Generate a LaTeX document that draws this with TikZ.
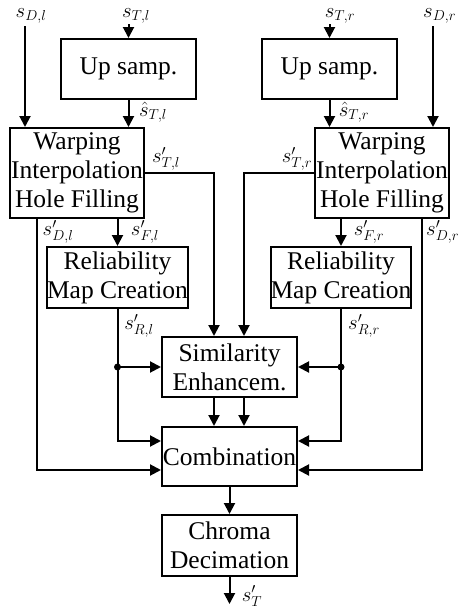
\documentclass[tikz,border=0pt]{standalone}
\usepackage{fontspec}
\setmainfont{Liberation Serif}
\usetikzlibrary{arrows.meta,calc}
\begin{document}
\begin{tikzpicture}[x=1pt,y=-1pt,
  blk/.style={draw,line width=2pt,inner sep=0pt,align=center,minimum width=135pt,font=\fontsize{25.5}{29}\selectfont},
  arr/.style={line width=2pt,-{Triangle[length=11pt,width=11pt]}},
  lab/.style={inner sep=0pt,font=\fontsize{22}{24}\selectfont},
  dotst/.style={circle,fill,inner sep=0pt,minimum size=7pt}]
\clip (0,0) rectangle (459,613);
\fill[white] (0,0) rectangle (459,613);
% blocks
\node[blk,minimum height=60pt] (upL) at (128.5,69) {Up samp.};
\node[blk,minimum height=60pt] (upR) at (329.5,69) {Up samp.};
\node[blk,minimum width=134pt,minimum height=90pt] (warpL) at (77,173) {Warping\\Interpolation\\Hole Filling};
\node[blk,minimum width=134pt,minimum height=90pt] (warpR) at (382,173) {Warping\\Interpolation\\Hole Filling};
\node[blk,minimum width=134pt,minimum height=61pt] (relL) at (117.5,277.5) {Reliability\\Map Creation};
\node[blk,minimum width=134pt,minimum height=61pt] (relR) at (341,277.5) {Reliability\\Map Creation};
\node[blk,minimum height=60pt] (sim) at (229.5,367) {Similarity\\Enhancem.};
\node[blk,minimum height=59pt] (comb) at (229.5,456.5) {Combination};
\node[blk,minimum height=61pt] (chroma) at (229.5,545.5) {Chroma\\Decimation};
% coordinates
\coordinate (sDl) at (25,26);
\coordinate (sTl) at (128.5,24);
\coordinate (sTr) at (329.5,24);
\coordinate (sDr) at (433,26);
\coordinate (cTl) at (214,173);
\coordinate (cTr) at (244,173);
\coordinate (cDl) at (37,470);
\coordinate (cDr) at (422,470);
\coordinate (xFl) at (117.5,0);
\coordinate (xFr) at (341,0);
\coordinate (cRl) at (117.5,441);
\coordinate (cRr) at (341,441);
\coordinate (dL) at (117.5,367);
\coordinate (dR) at (341,367);
\coordinate (out) at (229.5,604);
% left inputs
\draw[arr] (sDl) -- (sDl |- warpL.north);
\draw[arr] (sTl) -- (upL.north);
\draw[arr] (upL.south) -- (upL.south |- warpL.north);
% right inputs
\draw[arr] (sDr) -- (sDr |- warpR.north);
\draw[arr] (sTr) -- (upR.north);
\draw[arr] (upR.south) -- (upR.south |- warpR.north);
% warping outputs
\draw[arr] (warpL.east) -- (cTl) -- (cTl |- sim.north);
\draw[arr] (warpR.west) -- (cTr) -- (cTr |- sim.north);
\draw[arr] (cDl |- warpL.south) -- (cDl) -- (cDl -| comb.west);
\draw[arr] (cDr |- warpR.south) -- (cDr) -- (cDr -| comb.east);
\draw[arr] (xFl |- warpL.south) -- (xFl |- relL.north);
\draw[arr] (xFr |- warpR.south) -- (xFr |- relR.north);
% reliability outputs
\draw[arr] (relL.south) -- (cRl) -- (cRl -| comb.west);
\draw[arr] (relR.south) -- (cRr) -- (cRr -| comb.east);
\draw[arr] (dL) -- (dL -| sim.west);
\draw[arr] (dR) -- (dR -| sim.east);
\node[dotst] (dotL) at (dL) {};
\node[dotst] (dotR) at (dR) {};
% similarity to combination
\draw[arr] (cTl |- sim.south) -- (cTl |- comb.north);
\draw[arr] (cTr |- sim.south) -- (cTr |- comb.north);
\draw[arr] (comb.south) -- (chroma.north);
\draw[arr] (chroma.south) -- (out);
% labels
\node[lab] (lDl) at (31,16) {$s_{D,l}$};
\node[lab] (lTl) at (136,16) {$s_{T,l}$};
\node[lab] (lTr) at (340,16) {$s_{T,r}$};
\node[lab,anchor=west] (lDr) at (423,16) {$s_{D,r}$};
\node[lab] (lhl) at (153,112) {$\hat{s}_{T,l}$};
\node[lab] (lhr) at (354,112) {$\hat{s}_{T,r}$};
\node[lab] (lTpl) at (166,159) {$s'_{T,l}$};
\node[lab] (lTpr) at (297,159) {$s'_{T,r}$};
\node[lab] (lDpl) at (58,232) {$s'_{D,l}$};
\node[lab,anchor=west] (lDpr) at (426,232) {$s'_{D,r}$};
\node[lab] (lFpl) at (145,232) {$s'_{F,l}$};
\node[lab] (lFpr) at (369,232) {$s'_{F,r}$};
\node[lab] (lRpl) at (139,326) {$s'_{R,l}$};
\node[lab] (lRpr) at (364,326) {$s'_{R,r}$};
\node[lab] (lout) at (252,596) {$s'_{T}$};
\end{tikzpicture}
\end{document}
